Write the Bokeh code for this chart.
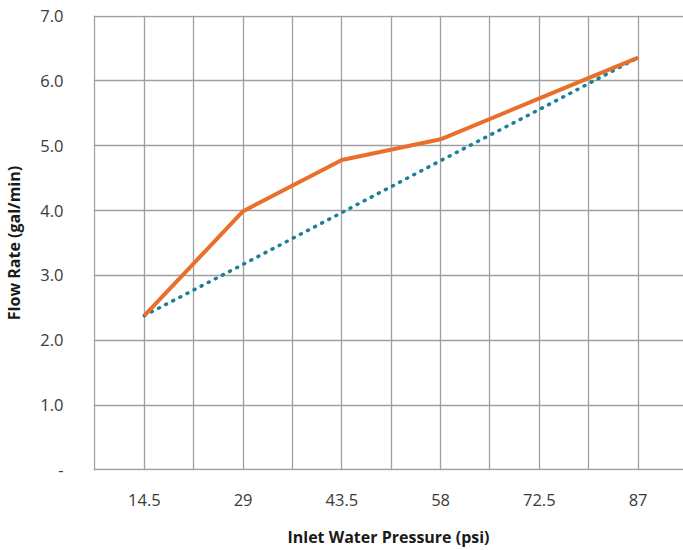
from bokeh.plotting import figure
from bokeh.models import FixedTicker, CustomJSTickFormatter
from bokeh.embed import file_html
from bokeh.resources import INLINE

x_labels = ["14.5", "29", "43.5", "58", "72.5", "87"]
flow_rate = [2.38, 3.99, 4.78, 5.10, 5.73, 6.36]
trend = [2.38, 3.17, 3.97, 4.77, 5.56, 6.36]
y_ticks = [0, 1, 2, 3, 4, 5, 6, 7]

xs = list(range(len(x_labels)))

p = figure(width=683, height=550, output_backend="svg", toolbar_location=None,
           x_range=(-0.515, 5.46), y_range=(-0.01, 7.01),
           min_border_left=93, min_border_top=15, min_border_right=0, min_border_bottom=76)
p.outline_line_color = None
p.background_fill_color = "white"

p.line(xs, trend, line_color="#1c7f97", line_width=3.5, line_dash="1 7", line_cap="round")
p.line(xs, flow_rate, line_color="#e8702a", line_width=4, line_join="round")

grid_x = [i * 0.5 - 0.5 for i in range(13)]
p.xgrid.ticker = FixedTicker(ticks=grid_x)
p.ygrid.ticker = FixedTicker(ticks=y_ticks)
for g in (p.xgrid, p.ygrid):
    g.grid_line_color = "#a0a0a0"
    g.grid_line_width = 1.3

p.xaxis.ticker = FixedTicker(ticks=xs)
p.xaxis.formatter = CustomJSTickFormatter(args=dict(labels=x_labels),
                                          code="return labels[Math.round(tick)] ?? '';")
p.yaxis.ticker = FixedTicker(ticks=y_ticks)
p.yaxis.formatter = CustomJSTickFormatter(code="return tick == 0 ? '-' : tick.toFixed(1);")

for ax in (p.xaxis[0], p.yaxis[0]):
    ax.axis_line_color = None
    ax.major_tick_line_color = None
    ax.minor_tick_line_color = None
    ax.major_label_text_font = "Open Sans"
    ax.major_label_text_font_size = "16.5px"
    ax.major_label_text_color = "#3a3a3a"
    ax.axis_label_text_font = "Open Sans"
    ax.axis_label_text_font_style = "bold"
    ax.axis_label_text_font_size = "16px"
    ax.axis_label_text_color = "#1a1a1a"

p.xaxis.axis_label = "Inlet Water Pressure (psi)"
p.yaxis.axis_label = "Flow Rate (gal/min)"
p.xaxis.major_label_standoff = 17
p.xaxis.axis_label_standoff = 17
p.yaxis.major_label_standoff = 24
p.yaxis.axis_label_standoff = 12

open("out.html", "w").write(file_html(p, INLINE))
